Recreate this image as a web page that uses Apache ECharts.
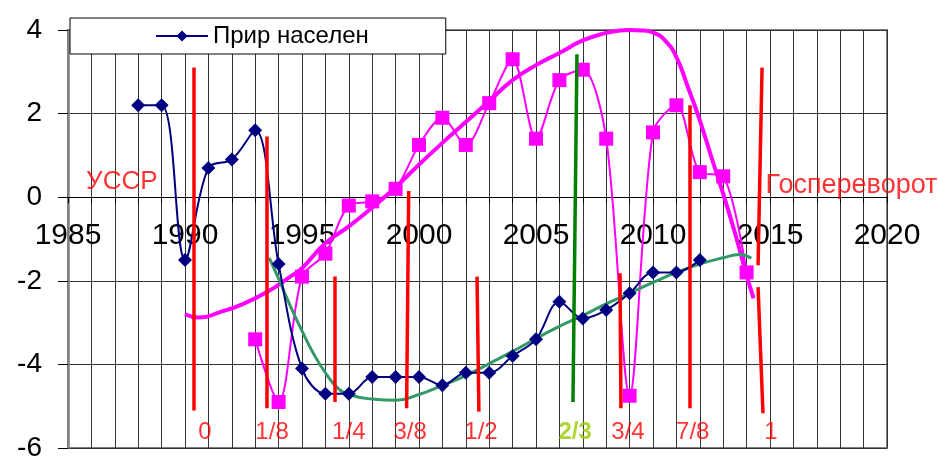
<!DOCTYPE html>
<html>
<head>
<meta charset="utf-8">
<script src="https://cdn.jsdelivr.net/npm/echarts@6/dist/echarts.min.js"></script>
<style>
html,body{margin:0;padding:0;background:#fff;}
#chart{width:938px;height:457px;}
</style>
</head>
<body>
<div id="chart"></div>
<script>
// ---- data ----
const xTickLabels = [1985, 1990, 1995, 2000, 2005, 2010, 2015, 2020];
const yTickLabels = [-6, -4, -2, 0, 2, 4];

const prirYears = [1988,1989,1990,1991,1992,1993,1994,1995,1996,1997,1998,1999,2000,2001,2002,2003,2004,2005,2006,2007,2008,2009,2010,2011,2012];
const prirValues = [2.2,2.2,-1.5,0.7,0.9,1.6,-1.6,-4.1,-4.7,-4.7,-4.3,-4.3,-4.3,-4.5,-4.2,-4.2,-3.8,-3.4,-2.5,-2.9,-2.7,-2.3,-1.8,-1.8,-1.5];

const pinkYears = [1993,1994,1995,1996,1997,1998,1999,2000,2001,2002,2003,2004,2005,2006,2007,2008,2009,2010,2011,2012,2013,2014];
const pinkValues = [-3.4,-4.9,-1.9,-1.35,-0.2,-0.1,0.2,1.25,1.9,1.25,2.25,3.3,1.4,2.8,3.05,1.4,-4.75,1.55,2.2,0.6,0.5,-1.8];

const pinkTrendX = [1990,1990.6,1991.5,1992.5,1993.5,1994.5,1995,1996,1997,1998,1999,2000,2001,2002,2003,2004,2005,2006,2007,2008,2008.5,2009,2009.5,2010,2010.5,2011,2011.5,2012,2012.5,2013,2013.5,2014,2014.3];
const pinkTrendY = [-2.8,-2.88,-2.75,-2.55,-2.27,-1.9,-1.7,-1.1,-0.7,-0.25,0.24,0.78,1.3,1.8,2.3,2.8,3.16,3.45,3.75,3.93,3.98,4.0,3.99,3.94,3.76,3.35,2.62,1.84,0.95,0.08,-0.85,-1.87,-2.42];

const greenTrendX = [1993.6,1994,1994.5,1995,1995.5,1996,1996.5,1997,1998,1999,2000,2001,2002,2003,2004,2005,2006,2007,2008,2009,2010,2011,2012,2013,2013.7,2014.2];
const greenTrendY = [-1.45,-1.95,-2.6,-3.2,-3.75,-4.2,-4.55,-4.72,-4.83,-4.86,-4.72,-4.5,-4.27,-3.98,-3.69,-3.38,-3.09,-2.83,-2.55,-2.3,-2.04,-1.8,-1.6,-1.45,-1.37,-1.46];

// vertical marker segments [x1, y1, x2, y2]
const redSegments = [
  [1990.38, 3.1, 1990.38, -5.1],
  [1993.5, 1.45, 1993.5, -5.05],
  [1996.41, -1.9, 1996.41, -4.9],
  [1999.56, 0.15, 1999.47, -5.05],
  [2002.48, -1.9, 2002.56, -5.13],
  [2008.59, -1.82, 2008.63, -5.05],
  [2011.58, 2.2, 2011.58, -5.05],
  [2014.66, 3.1, 2014.49, -1.63],
  [2014.49, -2.15, 2014.7, -5.17]
];
const greenSegments = [
  [2006.75, 3.42, 2006.58, -4.9]
];

const fractionTexts = ['0','1/8','1/4','3/8','1/2','2/3','3/4','7/8','1'];
const fractionX = [1990.85,1993.72,1997.0,1999.62,2002.65,2006.67,2008.93,2011.7,2015.04];
const fractionY = -5.62;

const leftNote = 'УССР';
const rightNote = 'Госпереворот';
const seriesName = 'Прир населен';

// ---- chart ----
const FONT = 'Liberation Sans, Arial, sans-serif';
const chart = echarts.init(document.getElementById('chart'));

const GRID = {left: 68, right: 51, top: 30, bottom: 9};
const plotH = 457 - GRID.top - GRID.bottom;
const yMin = -6, yMax = 4;
// move the x axis line up onto value 0
const zeroOffset = -plotH * (0 - yMin) / (yMax - yMin);

function segData(segs){
  return segs.map(s => ({coords: [[s[0], s[1]], [s[2], s[3]]]}));
}

const fracData = fractionTexts.map((t, i) => ({
  value: [fractionX[i], fractionY],
  name: t,
  label: t === '2/3' ? {color: '#99CC00', fontWeight: 'bold'} : {color: '#FF0000'}
}));

const option = {
  animation: false,
  backgroundColor: '#fff',
  textStyle: {fontFamily: FONT},
  grid: {
    left: GRID.left, right: GRID.right, top: GRID.top, bottom: GRID.bottom,
    containLabel: false,
    outerBoundsMode: 'none',
    show: true, borderColor: '#808080', borderWidth: 2, backgroundColor: 'transparent'
  },
  legend: {
    show: true,
    data: [seriesName],
    left: 70, top: 18,
    orient: 'horizontal',
    backgroundColor: '#fff',
    borderColor: '#000', borderWidth: 1,
    padding: [6, 77, 6, 85],
    itemWidth: 52, itemHeight: 14, itemGap: 6,
    textStyle: {fontSize: 24, color: '#000', fontFamily: FONT},
    borderRadius: 0
  },
  xAxis: {
    type: 'value',
    min: 1985, max: 2020, interval: 1,
    position: 'bottom',
    offset: zeroOffset,
    axisLine: {onZero: false, lineStyle: {color: '#000', width: 1}},
    axisTick: {show: true, length: 6, lineStyle: {color: '#000'}},
    axisLabel: {
      fontSize: 30, color: '#000', margin: 24, fontFamily: FONT,
      formatter: v => xTickLabels.indexOf(v) >= 0 ? String(v) : ''
    },
    splitLine: {show: true, lineStyle: {color: '#333', width: 1}}
  },
  yAxis: {
    type: 'value',
    min: yMin, max: yMax, interval: 2,
    axisLine: {show: true, onZero: false, lineStyle: {color: '#808080', width: 2.5}},
    axisTick: {show: true, length: 10, lineStyle: {color: '#000'}},
    axisLabel: {
      fontSize: 28, color: '#000', margin: 26, fontFamily: FONT,
      formatter: v => yTickLabels.indexOf(v) >= 0 ? String(v) : ''
    },
    splitLine: {show: true, lineStyle: {color: '#333', width: 1}}
  },
  series: [
    {
      name: 'trendPink',
      type: 'line',
      data: pinkTrendX.map((x, i) => [x, pinkTrendY[i]]),
      smooth: 0.5,
      showSymbol: false, symbol: 'none',
      lineStyle: {color: '#FF00FF', width: 4},
      z: 2, silent: true
    },
    {
      name: 'pink',
      type: 'line',
      data: pinkYears.map((x, i) => [x, pinkValues[i]]),
      smooth: 0.3,
      symbol: 'rect', symbolSize: 14,
      itemStyle: {color: '#FF00FF'},
      lineStyle: {color: '#FF00FF', width: 2},
      z: 3, silent: true
    },
    {
      name: 'trendGreen',
      type: 'line',
      data: greenTrendX.map((x, i) => [x, greenTrendY[i]]),
      smooth: 0.5,
      showSymbol: false, symbol: 'none',
      lineStyle: {color: '#339966', width: 3},
      z: 4, silent: true
    },
    {
      name: seriesName,
      type: 'line',
      data: prirYears.map((x, i) => [x, prirValues[i]]),
      smooth: 0.35,
      symbol: 'diamond', symbolSize: 14,
      itemStyle: {color: '#000080'},
      lineStyle: {color: '#000080', width: 2},
      z: 5, silent: true
    },
    {
      name: 'redLines',
      type: 'lines',
      coordinateSystem: 'cartesian2d',
      data: segData(redSegments),
      lineStyle: {color: '#FF0000', width: 3.5, opacity: 1},
      z: 6, silent: true
    },
    {
      name: 'greenLines',
      type: 'lines',
      coordinateSystem: 'cartesian2d',
      data: segData(greenSegments),
      lineStyle: {color: '#008000', width: 3.5, opacity: 1},
      z: 6, silent: true
    },
    {
      name: 'fractions',
      type: 'scatter',
      data: fracData,
      symbolSize: 1,
      itemStyle: {color: 'rgba(0,0,0,0)'},
      label: {
        show: true, position: 'inside', fontSize: 24, fontFamily: FONT,
        formatter: p => p.name
      },
      z: 7, silent: true
    },
    {
      name: 'notes',
      type: 'scatter',
      data: [
        {value: [1987.3, 0.36], name: leftNote, label: {position: 'inside', fontSize: 26}},
        {value: [2014.79, 0.29], name: rightNote, label: {position: 'right', distance: 0, fontSize: 27}}
      ],
      symbolSize: 1,
      itemStyle: {color: 'rgba(0,0,0,0)'},
      label: {
        show: true, color: '#FF0000', fontFamily: FONT,
        formatter: p => p.name
      },
      z: 7, silent: true
    }
  ]
};
chart.setOption(option);
</script>
</body>
</html>
